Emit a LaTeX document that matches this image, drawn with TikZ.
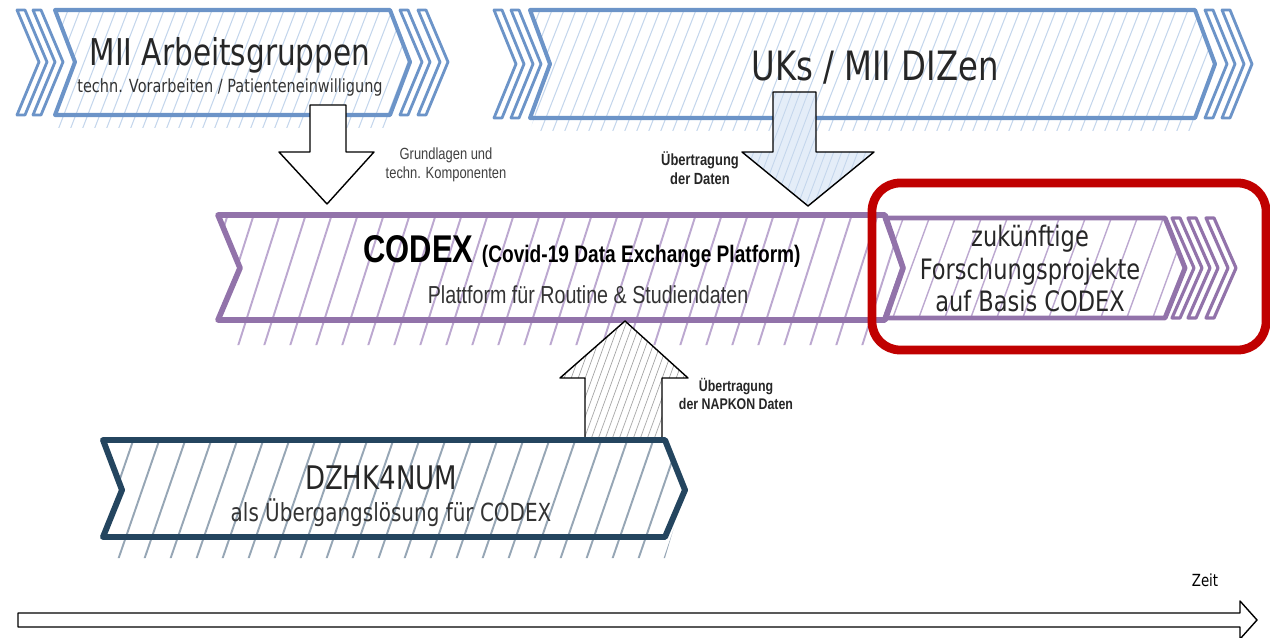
\documentclass[tikz,border=0pt]{standalone}
\usepackage{fontspec}
\setmainfont[FakeStretch=0.8]{Liberation Sans}
\newfontfamily\skizzefont[FakeStretch=0.8]{DejaVu Sans}
\usepackage{tikz}

\definecolor{miiblue}{HTML}{6C94C8}
\definecolor{miihatch}{HTML}{C4D6EC}
\definecolor{codexlila}{HTML}{9273AA}
\definecolor{codexhatch}{HTML}{BCA8D0}
\definecolor{dzhkblau}{HTML}{24455F}
\definecolor{dzhkhatch}{HTML}{96A6B5}
\definecolor{rahmenrot}{HTML}{C00000}
\definecolor{pfeilblau}{HTML}{E4EDF8}

\begin{document}
\begin{tikzpicture}[x=0.02cm, y=-0.02cm, line join=round,
  every node/.style={inner sep=0pt, align=center},
  miiband/.style={draw=miiblue, line width=2.3pt},
  winkel/.style={draw=miiblue, line width=1.6pt, fill=white},
  codexband/.style={draw=codexlila, line width=3.2pt},
  dzhkband/.style={draw=dzhkblau, line width=3.4pt},
  blockpfeil/.style={draw=black, line width=0.8pt},
  titel/.style={font=\skizzefont\fontsize{21}{25}\selectfont, text=black!85},
  untertitel/.style={font=\skizzefont\fontsize{10.3}{12}\selectfont, text=black!80},
  pfeiltext/.style={font=\fontsize{9.2}{11}\selectfont, text=black!75}]
  \useasboundingbox (0,0) rectangle (1270,638);

  \begin{scope}
    \clip (55,10) -- (390,10) -- (410,62) -- (390,128) -- (55,128) -- (75,62) -- cycle;
    \foreach \x in {10,22,...,420} \draw[miihatch, line width=0.6pt] (\x,130) -- ++(48,-125);
  \end{scope}
  \foreach \x in {17,33,400,418}
    \draw[winkel] (\x,10) -- ++(8,0) -- ++(22,52) -- ++(-22,53) -- ++(-8,0) -- ++(22,-53) -- cycle;
  \draw[miiband] (55,10) -- (390,10) -- (410,62) -- (390,115) -- (55,115) -- (75,62) -- cycle;
  \node[titel] (mii) at (230,55) {MII Arbeitsgruppen};
  \node[untertitel] (miisub) at (230,88) {techn. Vorarbeiten / Patienteneinwilligung};

  \begin{scope}
    \clip (530,10) -- (1195,10) -- (1215,64) -- (1195,131) -- (530,131) -- (550,64) -- cycle;
    \foreach \x in {480,492,...,1220} \draw[miihatch, line width=0.6pt] (\x,133) -- ++(50,-128);
  \end{scope}
  \foreach \x in {494,511,1205,1222}
    \draw[winkel] (\x,10) -- ++(8,0) -- ++(22,54) -- ++(-22,54) -- ++(-8,0) -- ++(22,-54) -- cycle;
  \draw[miiband] (530,10) -- (1195,10) -- (1215,64) -- (1195,118) -- (530,118) -- (550,64) -- cycle;
  \node[titel, font=\skizzefont\fontsize{23}{27}\selectfont] (uks) at (875,68) {UKs / MII DIZen};

  \draw[blockpfeil, fill=white] (310,105) -- (346,105) -- (346,152) -- (374,152) -- (327,204) -- (279,152) -- (310,152) -- cycle;
  \node[pfeiltext] (grundlagen) at (446,165) {Grundlagen und\\techn. Komponenten};

  \begin{scope}
    \clip (773,92) -- (816,92) -- (816,152) -- (874,152) -- (808,206) -- (742,152) -- (773,152) -- cycle;
    \fill[pfeilblau] (740,90) rectangle (876,208);
    \foreach \x in {700,708,...,880} \draw[miihatch, line width=0.5pt] (\x,210) -- ++(45,-120);
  \end{scope}
  \draw[blockpfeil] (773,92) -- (816,92) -- (816,152) -- (874,152) -- (808,206) -- (742,152) -- (773,152) -- cycle;
  \node[pfeiltext, font=\bfseries\fontsize{9.2}{11}\selectfont, text=black!85] (daten) at (700,168) {Übertragung\\der Daten};

  \begin{scope}
    \clip (218,215) -- (885,215) -- (903,268) -- (885,345) -- (218,345) -- (240,268) -- cycle;
    \foreach \x in {160,186,...,900} \draw[codexhatch, line width=1.1pt] (\x,346) -- ++(42,-132);
  \end{scope}
  \begin{scope}
    \clip (885,218) -- (1165,218) -- (1185,268) -- (1165,318) -- (885,318) -- (903,268) -- cycle;
    \foreach \x in {840,866,...,1180} \draw[codexhatch, line width=0.8pt] (\x,320) -- ++(38,-104);
  \end{scope}
  \foreach \x in {1172,1188,1206}
    \draw[codexlila, line width=1.8pt, fill=white] (\x,218) -- ++(8,0) -- ++(22,50) -- ++(-22,50) -- ++(-8,0) -- ++(22,-50) -- cycle;
  \draw[codexband] (218,215) -- (885,215) -- (903,268) -- (885,320) -- (218,320) -- (240,268) -- cycle;
  \draw[codexlila, line width=2.8pt] (885,218) -- (1165,218) -- (1185,268) -- (1165,318) -- (885,318) -- (903,268) -- cycle;
  \node (codex) at (582,252) {\bfseries\fontsize{22}{26}\selectfont CODEX \fontsize{13.6}{16}\selectfont(Covid-19 Data Exchange Platform)};
  \node[font=\fontsize{14}{17}\selectfont, text=black!80] (codexsub) at (588,295) {Plattform für Routine \& Studiendaten};
  \node[font=\skizzefont\fontsize{16}{18.5}\selectfont, text=black!85] (zukunft) at (1030,269) {zukünftige\\Forschungsprojekte\\auf Basis CODEX};

  \draw[rahmenrot, line width=5pt, rounded corners=16pt] (872,183) rectangle (1266,350);

  \begin{scope}
    \clip (103,440) -- (665,440) -- (685,490) -- (665,558) -- (103,558) -- (122,490) -- cycle;
    \foreach \x in {40,66,...,690} \draw[dzhkhatch, line width=1.1pt] (\x,560) -- ++(42,-122);
  \end{scope}
  \begin{scope}
    \clip (585,440) -- (585,378) -- (560,378) -- (625,321) -- (688,378) -- (662,378) -- (662,440) -- cycle;
    \fill[white] (555,318) rectangle (690,442);
    \foreach \x in {520,527,...,700} \draw[black!35, line width=0.4pt] (\x,442) -- ++(45,-124);
  \end{scope}
  \draw[blockpfeil] (585,440) -- (585,378) -- (560,378) -- (625,321) -- (688,378) -- (662,378) -- (662,440);
  \node[pfeiltext, font=\bfseries\fontsize{8.8}{10.5}\selectfont, text=black!85] (napkon) at (736,394) {Übertragung\\der NAPKON Daten};
  \draw[dzhkband] (103,440) -- (665,440) -- (685,490) -- (665,537) -- (103,537) -- (122,490) -- cycle;
  \node[titel, font=\skizzefont\fontsize{18.5}{22}\selectfont] (dzhk) at (381,478) {DZHK4NUM};
  \node[untertitel, font=\skizzefont\fontsize{14.2}{17}\selectfont] (dzhksub) at (391,513) {als Übergangslösung für CODEX};

  \draw[blockpfeil, fill=white] (18,613) -- (1240,613) -- (1240,601) -- (1257,620) -- (1240,639) -- (1240,627) -- (18,627) -- cycle;
  \node[font=\skizzefont\fontsize{9.5}{11}\selectfont] (zeit) at (1205,580) {Zeit};
\end{tikzpicture}
\end{document}
